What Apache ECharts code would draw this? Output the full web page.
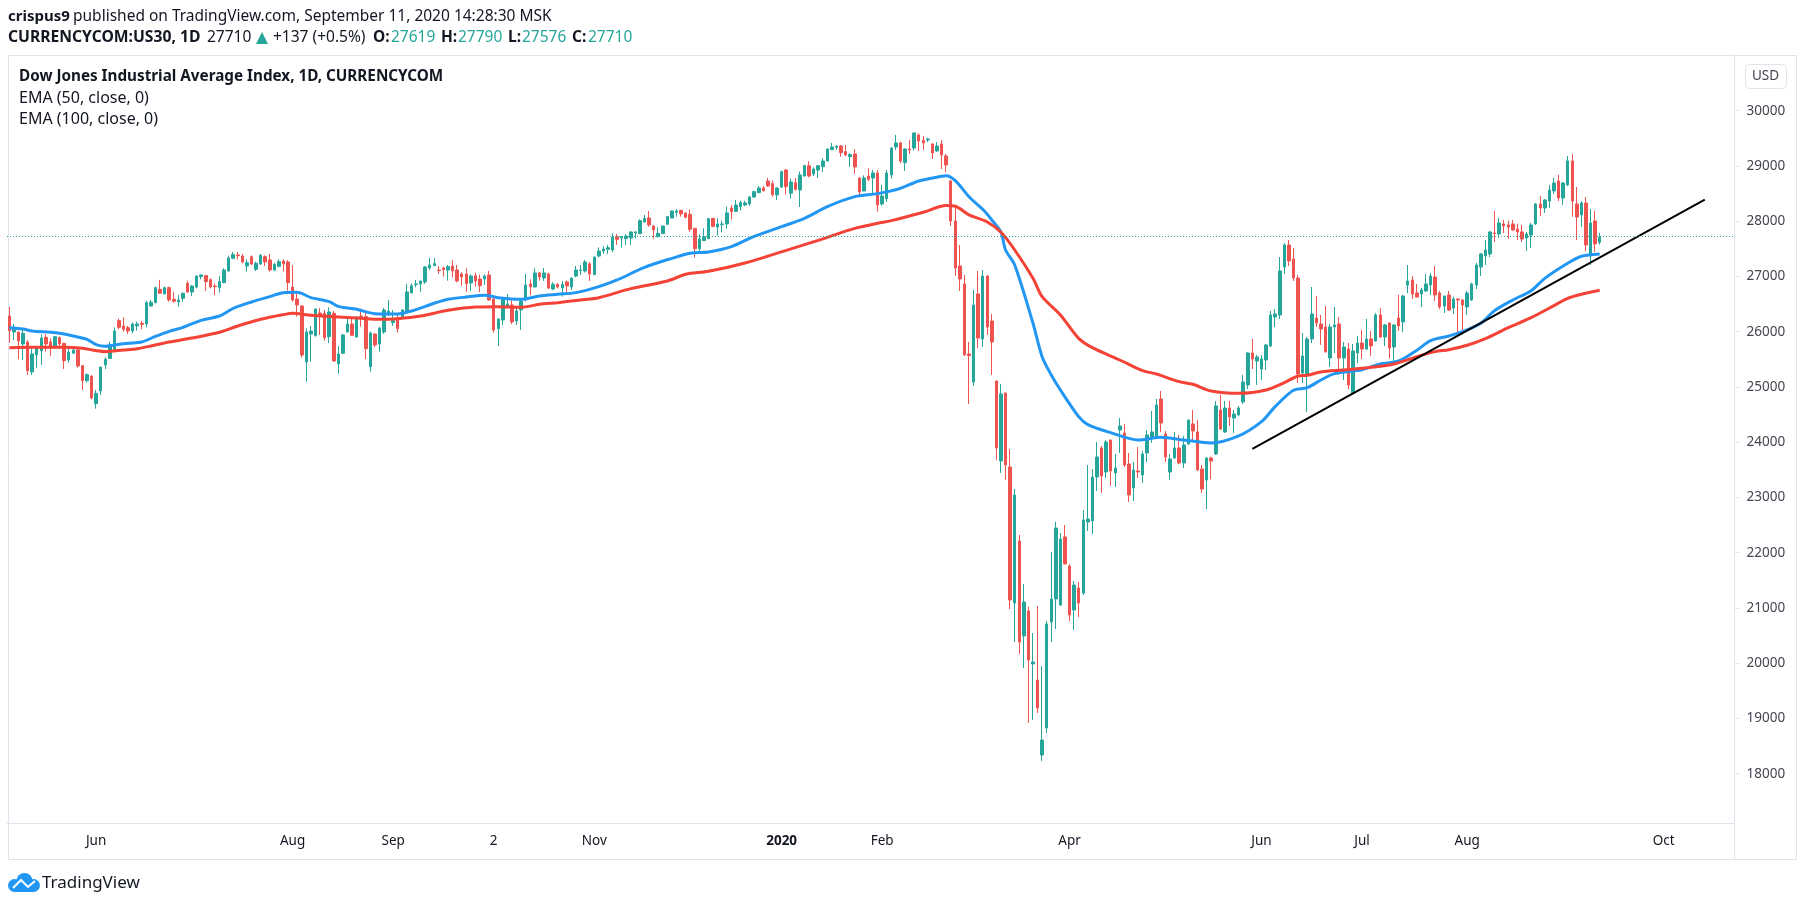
<!DOCTYPE html>
<html>
<head>
<meta charset="utf-8">
<title>Dow Jones Industrial Average Index</title>
<style>
  html, body { margin: 0; padding: 0; background: #fff; }
  #chart { width: 1805px; height: 906px; }
</style>
<script src="https://cdn.jsdelivr.net/npm/echarts@6/dist/echarts.min.js"></script>
</head>
<body>
<div id="chart"></div>
<script>
// daily candles: open, close, low, high
const candles = [
  [26284,26019,25802,26453],[25995,26079,25850,26140],[25995,25832,25500,26000],[25778,25971,25488,26031],[25814,25295,25217,25850],
  [25271,25597,25217,25729],[25579,25717,25349,25741],[25657,25886,25398,25953],[25898,25778,25639,25959],[25814,25717,25560,25880],
  [25717,25910,25699,25922],[25892,25778,25699,25910],[25790,25476,25325,25795],[25488,25633,25440,25699],[25609,25669,25597,25717],
  [25669,25380,25349,25729],[25386,25114,24945,25398],[25114,25223,25078,25247],[25199,24800,24776,25205],[24698,24885,24607,24945],
  [24927,25361,24855,25365],[25398,25500,25325,25536],[25518,25741,25506,25820],[25681,26013,25669,26079],[26200,26079,26043,26236],
  [26103,26043,26001,26260],[26073,26013,25959,26103],[26013,26140,25971,26164],[26103,26140,26019,26182],[26152,26134,26043,26194],
  [26140,26526,26079,26556],[26465,26532,26453,26574],[26526,26797,26514,26815],[26767,26695,26683,26936],[26683,26797,26677,26815],
  [26797,26574,26544,26815],[26586,26550,26526,26725],[26538,26574,26453,26665],[26604,26695,26538,26707],[26876,26719,26707,26924],
  [26719,26827,26646,26846],[26809,27008,26785,27015],[26996,27027,26948,27035],[27015,26906,26737,27027],[26942,26809,26785,26966],
  [26827,26815,26665,26876],[26797,26906,26707,27008],[26888,27117,26876,27147],[27099,27334,27087,27376],[27328,27395,27310,27443],
  [27388,27376,27310,27443],[27370,27262,27238,27407],[27189,27250,27087,27310],[27358,27226,27208,27382],[27129,27238,27099,27268],
  [27226,27382,27208,27407],[27358,27262,27189,27382],[27298,27117,27087,27407],[27117,27220,27099,27250],[27183,27268,27165,27310],
  [27280,27226,27087,27310],[27262,26888,26743,27298],[26809,26574,26544,27208],[26592,26484,26272,26713],[26465,25579,25530,26484],
  [25452,25995,25096,26061],[25959,26013,25458,26103],[25929,26411,25910,26423],[26339,26284,25941,26423],[26333,25892,25838,26393],
  [25910,26357,25790,26441],[26333,25470,25458,26375],[25416,25597,25241,25741],[25609,25941,25597,25959],[25995,26140,25990,26260],
  [26140,25935,25923,26242],[25904,26266,25892,26284],[26284,26260,26091,26417],[26272,25693,25506,26375],[25367,25977,25277,26001],
  [25959,25760,25717,25970],[25778,26067,25639,26091],[25995,26393,25959,26429],[26303,26375,26284,26574],[26164,26200,26103,26393],
  [26248,26055,25983,26321],[26260,26393,26242,26405],[26375,26719,26363,26864],[26701,26833,26695,26876],[26852,26864,26803,26936],
  [26864,26918,26719,26924],[26900,27171,26864,27189],[27153,27207,27117,27334],[27195,27232,27189,27334],[27117,27105,27045,27189],
  [27153,27123,26996,27177],[27117,27177,26924,27207],[27189,27099,26984,27298],[27117,26918,26894,27207],[27045,26990,26833,27075],
  [27045,26870,26719,27147],[26882,27008,26737,27039],[27014,26918,26815,27069],[26954,26833,26719,27033],[26954,27008,26846,27039],
  [27027,26574,26562,27099],[26592,26031,25983,26646],[26055,26230,25741,26236],[26212,26580,26122,26604],[26447,26502,26441,26683],
  [26484,26176,26140,26604],[26194,26375,26122,26465],[26393,26556,26031,26604],[26586,26846,26544,27045],[26864,26815,26665,26948],
  [26809,27063,26805,27147],[27063,26990,26924,27081],[26972,27063,26918,27153],[27045,26791,26773,27069],[26773,26858,26755,26894],
  [26858,26809,26785,26876],[26791,26858,26634,26918],[26900,26827,26695,26924],[26809,26972,26755,26975],[27008,27117,26984,27189],
  [27105,27117,27027,27207],[27099,27262,27069,27298],[27226,27045,26918,27262],[27033,27352,27027,27355],[27370,27461,27346,27527],
  [27461,27497,27407,27552],[27491,27521,27407,27570],[27479,27708,27443,27781],[27720,27672,27570,27769],[27696,27720,27521,27732],
  [27684,27732,27570,27763],[27696,27805,27570,27823],[27787,27805,27690,27823],[27775,28010,27769,28034],[27986,28052,27974,28113],
  [28058,27932,27901,28185],[27913,27841,27684,27932],[27720,27781,27708,27889],[27775,27913,27769,27915],[27944,28082,27932,28094],
  [28058,28185,28052,28191],[28161,28185,28082,28221],[28197,28131,28082,28203],[28149,28070,28052,28155],[28125,27853,27805,28215],
  [27871,27503,27340,27875],[27503,27678,27419,27763],[27648,27720,27645,27871],[27684,28046,27678,28058],[28052,27907,27889,28056],
  [27895,27950,27738,28052],[27938,27950,27799,28010],[27950,28149,27865,28263],[28239,28173,28034,28294],[28179,28294,28167,28384],
  [28263,28336,28191,28372],[28294,28330,28275,28372],[28312,28438,28282,28456],[28438,28535,28426,28553],[28517,28601,28505,28637],
  [28601,28553,28535,28637],[28728,28637,28625,28782],[28680,28481,28444,28734],[28475,28601,28384,28613],[28619,28897,28601,28915],
  [28927,28625,28481,28939],[28505,28710,28408,28770],[28698,28577,28553,28782],[28565,28837,28257,28897],[28818,29005,28806,29023],
  [29005,28818,28794,29084],[28855,28945,28818,28975],[28927,29005,28782,29017],[28987,29090,28891,29138],[29090,29307,29085,29319],
  [29295,29343,29289,29416],[29337,29355,29289,29380],[29361,29241,29168,29380],[29259,29199,29180,29380],[29168,29205,28987,29229],
  [29217,28981,28855,29301],[28782,28529,28444,28790],[28547,28782,28541,28830],[28818,28758,28728,28957],[28782,28873,28493,28927],
  [28873,28294,28173,28927],[28312,28457,28276,28656],[28408,28873,28348,28927],[28837,29325,28770,29337],[29343,29416,29289,29561],
  [29416,29090,29048,29434],[29060,29307,28909,29319],[29307,29289,29217,29470],[29325,29597,29277,29600],[29561,29452,29271,29591],
  [29464,29416,29289,29542],[29470,29488,29434,29512],[29398,29235,29126,29410],[29271,29361,29253,29434],[29398,29199,28945,29470],
  [29180,29018,28891,29217],[28728,28004,27913,28746],[28004,27153,27009,28294],[27190,26954,26737,27570],[26864,25579,25561,27027],
  [25597,25567,24692,25814],[25090,26484,25018,26755],[26683,25886,25705,27099],[25868,27008,25723,27117],[27008,26085,25941,27027],
  [26194,25814,25217,26321],[25108,23895,23678,25115],[23660,24873,23443,25054],[24891,23588,23316,24895],[23552,21144,20981,23877],
  [21090,23045,20384,23153],[22212,20384,20167,22321],[20493,21108,19914,21434],[20945,20058,18918,21018],[19986,20022,18972,20547],
  [19696,19190,19099,21036],[18339,18610,18231,19950],[18828,20710,18737,20764],[20746,21163,20384,22013],[21163,22447,20620,22556],
  [21054,22248,21036,22357],[22285,21796,21790,22502],[21760,20873,20764,21796],[20963,21416,20601,21488],[21361,21090,20837,21470],
  [21271,22592,21235,22773],[22556,22610,22393,23588],[22574,23371,22339,23515],[23371,23732,23117,24004],[23895,23389,23081,23932],
  [23461,24004,23352,24040],[24040,23479,23208,24045],[23443,23533,23190,23787],[24221,24294,23805,24438],[24167,23588,23552,24330],
  [23606,23045,22918,23805],[23171,23497,22936,23642],[23479,23461,23352,23913],[23407,23787,23262,23841],[23805,24131,23642,24221],
  [24095,24185,23986,24565],[24095,24674,24077,24782],[24782,24348,24185,24927],[24149,23732,23642,24203],[23461,23696,23316,23787],
  [23714,23895,23696,24185],[23895,23624,23606,24131],[23624,23950,23533,24113],[23968,24402,23950,24410],[24330,24203,24040,24583],
  [24185,23497,23479,24402],[23515,23153,23081,23588],[23316,23714,22790,23733],[23714,23660,23328,23738],[23787,24656,23769,24746],
  [24583,24239,24221,24855],[24185,24619,24167,24746],[24619,24457,24294,24746],[24438,24511,24167,24583],[24493,24619,24475,24656],
  [24728,25090,24692,25217],[25036,25615,24963,25633],[25615,25506,25325,25868],[25470,25542,25036,25579],[25325,25506,25126,25579],
  [25488,25760,25307,25778],[25742,26303,25723,26375],[26266,26321,26085,26411],[26303,27099,26230,27352],[27171,27570,27045,27606],
  [27570,27280,27189,27660],[27316,26972,26918,27515],[26972,25235,25072,27027],[25253,25561,25072,25977],[25235,25868,24547,25904],
  [25868,26321,25796,26809],[26248,26158,26085,26646],[26140,26049,25760,26303],[26085,25633,25628,26465],[25524,26085,25361,26140],
  [26085,26122,25615,26447],[26140,25524,25307,26266],[25524,25723,25126,25814],[25687,25036,24963,25796],[24891,25651,24885,25778],
  [25615,25796,25434,25923],[25796,25687,25506,26031],[25687,25868,25669,26230],[25868,25742,25561,26013],[25832,26303,25825,26339],
  [26303,25904,25886,26429],[25904,26122,25742,26140],[26158,25705,25518,26165],[25723,26122,25428,26140],[26248,26104,26013,26665],
  [26176,26646,25995,26665],[26846,26918,26701,27207],[26936,26683,26592,27008],[26701,26628,26622,26864],[26683,26755,26447,26791],
  [26737,26864,26719,27045],[26846,27008,26665,27063],[26990,26665,26556,27189],[26701,26447,26411,26737],[26465,26646,26339,26650],
  [26665,26393,26375,26737],[26429,26592,26321,26635],[26592,26574,25971,26595],[26574,26484,26001,26592],[26447,26701,26303,26737],
  [26574,26864,26556,26888],[26846,27208,26773,27244],[27172,27407,27009,27425],[27371,27479,27208,27660],[27407,27805,27352,27823],
  [27787,27775,27624,28185],[27769,27968,27696,28058],[27950,27914,27787,28022],[27932,27895,27678,28010],[27950,27841,27823,28022],
  [27859,27805,27660,27950],[27805,27678,27624,27932],[27696,27769,27461,27805],[27751,27932,27515,27968],[27950,28312,27932,28330],
  [28312,28239,28094,28457],[28239,28384,28149,28402],[28366,28565,28239,28656],[28547,28692,28493,28782],[28728,28420,28366,28837],
  [28420,28692,28294,28710],[28656,29090,28637,29180],[29090,28366,28082,29217],[28312,28076,27660,28619],[28113,28330,27895,28366],
  [28330,27570,27461,28438],[27371,27968,27208,28221],[28004,27588,27443,28185],[27619,27710,27576,27790]
];

// moving averages, read at [bar number, value]
const ema50 = [
  [0,26073],[3,26049],[5,26013],[9,25989],[11,25971],[14,25922],[17,25862],[19,25766],[21,25735],[23,25760],
  [26,25790],[29,25814],[32,25916],[35,26007],[38,26079],[42,26206],[46,26284],[49,26423],[53,26538],[57,26634],
  [60,26707],[63,26713],[66,26616],[70,26544],[72,26459],[76,26405],[80,26327],[85,26321],[88,26375],[93,26514],
  [96,26586],[100,26628],[104,26659],[107,26616],[112,26586],[116,26646],[120,26677],[124,26707],[129,26815],[133,26936],
  [139,27165],[145,27328],[149,27419],[153,27443],[158,27539],[163,27726],[169,27901],[174,28052],[179,28263],[185,28444],
  [190,28499],[195,28595],[199,28728],[204,28812],[205,28824],[207,28734],[210,28444],[213,28215],[215,28022],[217,27799],
  [218,27479],[220,27207],[224,26152],[226,25548],[228,25217],[230,24945],[234,24462],[236,24318],[241,24173],[247,24040],
  [252,24088],[257,24040],[263,23986],[269,24113],[274,24372],[277,24644],[281,24939],[284,24987],[287,25126],[290,25241],
  [296,25313],[300,25416],[304,25470],[308,25665],[311,25838],[315,25923],[318,26001],[322,26152],[325,26381],[329,26574],
  [333,26743],[336,26966],[341,27238],[344,27365],[348,27407]
];
const ema100 = [
  [0,25711],[5,25717],[12,25717],[16,25699],[19,25657],[21,25639],[25,25669],[28,25693],[31,25741],[35,25814],
  [40,25886],[46,25989],[50,26103],[55,26224],[60,26309],[62,26333],[66,26297],[71,26272],[77,26242],[81,26224],
  [85,26236],[90,26284],[96,26387],[102,26447],[107,26453],[112,26441],[116,26495],[120,26526],[125,26574],[129,26616],
  [136,26779],[144,26918],[148,27039],[153,27093],[161,27244],[170,27473],[177,27654],[185,27871],[190,27962],[193,28010],
  [200,28161],[205,28282],[207,28270],[210,28113],[214,27986],[217,27799],[220,27479],[224,26966],[226,26634],[230,26303],
  [234,25880],[237,25711],[243,25488],[248,25295],[251,25235],[256,25096],[259,25048],[263,24927],[269,24885],[275,24945],
  [279,25078],[282,25199],[284,25211],[287,25271],[292,25307],[298,25355],[303,25416],[308,25548],[312,25639],[315,25675],
  [319,25754],[323,25874],[328,26073],[333,26254],[338,26472],[341,26604],[344,26677],[348,26749]
];

// hand drawn trend line, start and end
const trendLine = [[272,23880],[371,28390]];

// dotted last price line
const lastPriceLine = 27723;
const barCount = 378;
const tickIndex = [19,62,84,106,128,169,191,232,274,296,319,362];
const tickLabels = ["Jun","Aug","Sep","2","Nov","2020","Feb","Apr","Jun","Jul","Aug","Oct"];
const priceTicks = [18000,19000,20000,21000,22000,23000,24000,25000,26000,27000,28000,29000,30000];

const categories = [];
for (let i = 0; i < barCount; i++) {
  const t = tickIndex.indexOf(i);
  categories.push(t >= 0 ? tickLabels[t] : String(i));
}

const GREEN = "#26a69a", RED = "#ef5350", INK = "#131722", EDGE = "#e0e3eb";
const FONT = '"Noto Sans", sans-serif';

function txt(x, y, text, size, weight, fill) {
  return {
    type: "text", x: x, y: y, silent: true, z: 20,
    style: {text: text, fontFamily: FONT, fontSize: size, fontWeight: weight || "normal",
      fill: fill || INK, textVerticalAlign: "middle"}
  };
}

const chart = echarts.init(document.getElementById("chart"));
chart.setOption({
  animation: false,
  backgroundColor: "#fff",
  grid: {left: 7, right: 70.5, top: 55, bottom: 83},
  xAxis: {
    type: "category",
    data: categories,
    boundaryGap: true,
    axisLine: {lineStyle: {color: EDGE, width: 1}},
    axisTick: {alignWithLabel: true, length: 4, lineStyle: {color: EDGE},
      interval: i => tickIndex.includes(i)},
    axisLabel: {
      interval: i => tickIndex.includes(i),
      margin: 11, fontFamily: FONT, fontSize: 13.5, color: INK,
      formatter: v => v === "2020" ? "{y|2020}" : v,
      rich: {y: {fontWeight: "bold", fontFamily: FONT, fontSize: 13.5, color: INK}}
    },
    splitLine: {show: false}
  },
  yAxis: {
    type: "value",
    position: "right",
    min: 17108,
    max: 31008,
    axisLine: {show: true, lineStyle: {color: EDGE, width: 1}},
    axisTick: {show: true, length: 5, lineStyle: {color: EDGE}, customValues: priceTicks},
    axisLabel: {customValues: priceTicks, margin: 12, fontFamily: FONT, fontSize: 13.5, color: "#434651",
      formatter: v => String(v)},
    splitLine: {show: false}
  },
  series: [
    {
      type: "candlestick",
      data: candles,
      barWidth: 3,
      itemStyle: {color: GREEN, color0: RED, borderColor: GREEN, borderColor0: RED, borderWidth: 1},
      markLine: {
        silent: true, symbol: "none", animation: false,
        label: {show: false},
        lineStyle: {color: GREEN, type: [1, 2], width: 1},
        data: [{yAxis: lastPriceLine}]
      }
    },
    {type: "line", data: ema50, showSymbol: false, smooth: 0.3, lineStyle: {color: "#2196f3", width: 3}, z: 3},
    {type: "line", data: ema100, showSymbol: false, smooth: 0.3, lineStyle: {color: "#f44336", width: 3}, z: 3},
    {type: "line", data: trendLine, showSymbol: false, lineStyle: {color: "#000", width: 2}, z: 4}
  ],
  graphic: [
    // outer frame of the pane
    {type: "rect", silent: true, z: 1, shape: {x: 8.5, y: 55.5, width: 1788, height: 804},
      style: {fill: null, stroke: EDGE, lineWidth: 1}},
    {type: "line", silent: true, z: 1, shape: {x1: 1734.5, y1: 823, x2: 1734.5, y2: 859},
      style: {stroke: EDGE, lineWidth: 1}},
    // header
    txt(8, 17, "crispus9", 15, "bold"),
    txt(73, 17, "published on TradingView.com, September 11, 2020 14:28:30 MSK", 15.5),
    txt(8, 38, "CURRENCYCOM:US30, 1D", 15.7, "bold"),
    txt(207, 38, "27710", 15.5),
    {type: "polygon", silent: true, shape: {points: [[256, 44], [262, 32], [268, 44]]}, style: {fill: GREEN}},
    txt(273, 38, "+137 (+0.5%)", 15.5),
    txt(373, 38, "O:", 15.5, "bold"), txt(391, 38, "27619", 15.5, "normal", GREEN),
    txt(441, 38, "H:", 15.5, "bold"), txt(458, 38, "27790", 15.5, "normal", GREEN),
    txt(508, 38, "L:", 15.5, "bold"), txt(522, 38, "27576", 15.5, "normal", GREEN),
    txt(572, 38, "C:", 15.5, "bold"), txt(588, 38, "27710", 15.5, "normal", GREEN),
    // pane legend
    txt(19, 77, "Dow Jones Industrial Average Index, 1D, CURRENCYCOM", 15.25, "bold"),
    txt(19, 98, "EMA (50, close, 0)", 16),
    txt(19, 119, "EMA (100, close, 0)", 16),
    // currency badge
    {type: "rect", silent: true, shape: {x: 1745.5, y: 64.5, width: 41, height: 24, r: 4},
      style: {fill: "#fff", stroke: EDGE, lineWidth: 1}},
    txt(1752, 76.5, "USD", 13.5, "normal", "#434651"),
    // logo: cloud built from blobs, with the white line on top
    {type: "circle", silent: true, shape: {cx: 14.5, cy: 885.5, r: 6.5}, style: {fill: "#2196f3"}},
    {type: "circle", silent: true, shape: {cx: 24.5, cy: 881, r: 8}, style: {fill: "#2196f3"}},
    {type: "circle", silent: true, shape: {cx: 33.5, cy: 885.5, r: 6.5}, style: {fill: "#2196f3"}},
    {type: "rect", silent: true, shape: {x: 14, y: 884, width: 20, height: 8}, style: {fill: "#2196f3"}},
    {type: "polyline", silent: true, z: 2, shape: {points: [[13, 888], [21, 880], [28, 887], [35, 881]]},
      style: {stroke: "#fff", lineWidth: 2, fill: null}},
    txt(42, 883, "TradingView", 17)
  ]
});
</script>
</body>
</html>
